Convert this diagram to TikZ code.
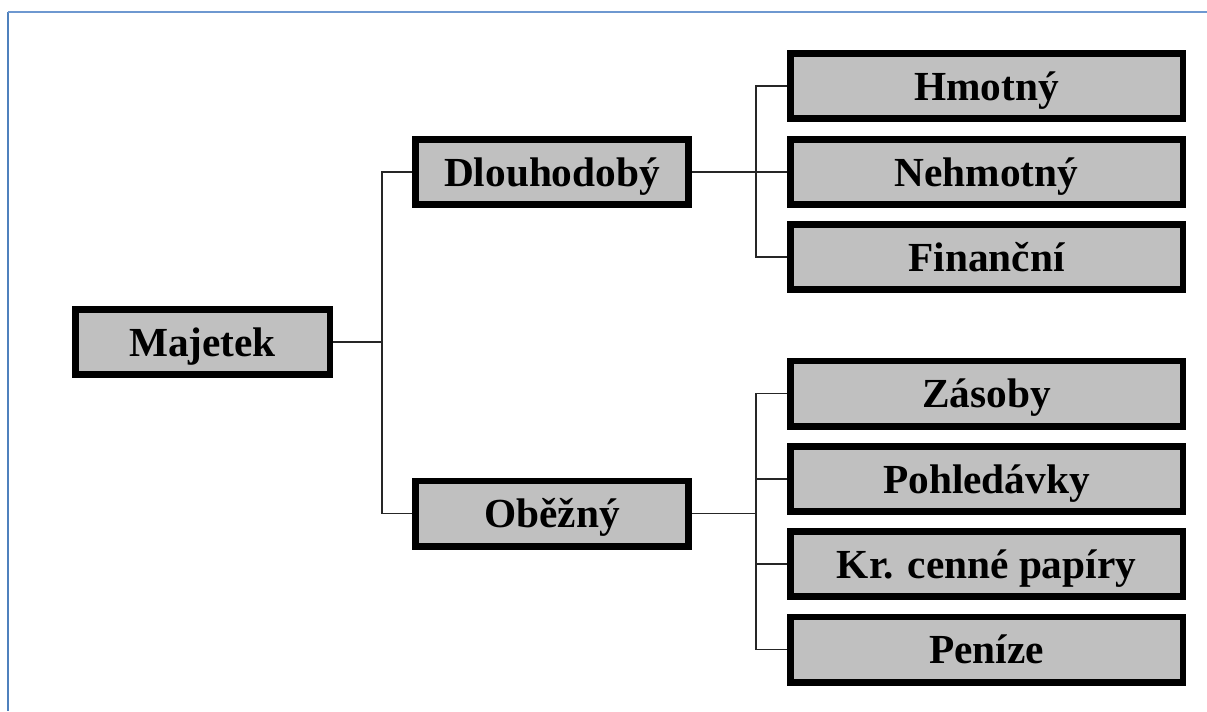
\documentclass[tikz,border=0pt]{standalone}
\usepackage{fontspec}
\setmainfont{Liberation Serif}
\usepackage{tikz}
\usetikzlibrary{calc}
\definecolor{boxgray}{RGB}{192,192,192}
\definecolor{frameblue}{RGB}{79,129,189}
\definecolor{frametop}{RGB}{110,152,208}

\begin{document}
\begin{tikzpicture}[x=0.75pt,y=-0.75pt,
  every node/.style={font=\fontsize{31}{36}\selectfont\bfseries},
  box/.style={draw,fill=boxgray,line width=4.9pt,inner sep=0pt,minimum height=49.1pt,
    text height=21.5pt,text depth=0pt},
  link/.style={line width=1.1pt,black!85}]
  \useasboundingbox (0,0) rectangle (1207,711);
  % frame
  \draw[frameblue,line width=2pt](8,12)--(8,711);
  \draw[frametop,line width=2pt](8,12)--(1207,12);
  % boxes
  \node[box,minimum width=190.9pt](maj) at(202.5,342){Majetek};
  \node[box,minimum width=205.1pt](dlo) at(552,172){Dlouhodobý};
  \node[box,minimum width=205.1pt](obe) at(552,513.5){Oběžný};
  \node[box,minimum width=294.4pt](hmo) at(986.5,86){Hmotný};
  \node[box,minimum width=294.4pt](neh) at(986.5,172){Nehmotný};
  \node[box,minimum width=294.4pt](fin) at(986.5,257){Finanční};
  \node[box,minimum width=294.4pt](zas) at(986.5,393.5){Zásoby};
  \node[box,minimum width=294.4pt](poh) at(986.5,479){Pohledávky};
  \node[box,minimum width=294.4pt](kcp) at(986.5,564){Kr. cenné papíry};
  \node[box,minimum width=294.4pt](pen) at(986.5,649.5){Peníze};
  % connectors
  \coordinate (jm) at(382,342);
  \coordinate (jd) at(756,172);
  \coordinate (jo) at(756,513.5);
  \draw[link](maj.east)--(jm);
  \draw[link](jm)|-(dlo.west);
  \draw[link](jm)|-(obe.west);
  \draw[link](dlo.east)--(jd);
  \foreach \n in {hmo,neh,fin}
    \draw[link](jd)|-(\n.west);
  \draw[link](obe.east)--(jo);
  \foreach \n in {zas,poh,kcp,pen}
    \draw[link](jo)|-(\n.west);
\end{tikzpicture}
\end{document}
